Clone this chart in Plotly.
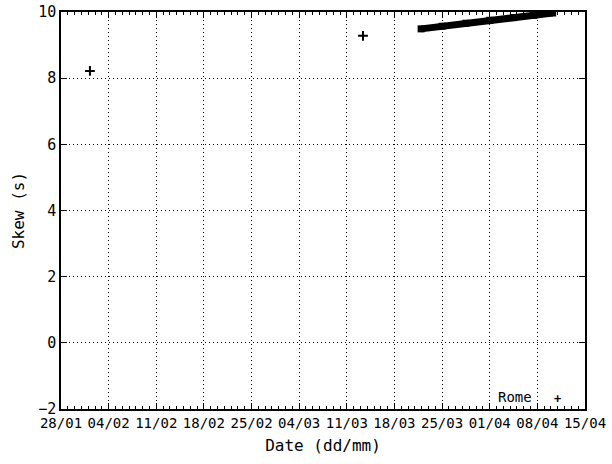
import plotly.graph_objects as go

# Isolated measurements
single_dates = ["2007-02-01 06:00", "2007-03-13 09:00"]
single_skew = [8.22, 9.28]

# Dense run of measurements (reads as a thick band)
band_dates = ["2007-03-21 22:00", "2007-03-25 00:00", "2007-03-28 12:00",
              "2007-04-01 00:00", "2007-04-04 12:00", "2007-04-07 12:00",
              "2007-04-10 06:00"]
band_skew = [9.49, 9.57, 9.66, 9.75, 9.83, 9.90, 9.97]

series_name = "Rome"
x_range = ["2007-01-28", "2007-04-15"]
y_range = [-2, 10]
y_ticks = [-2, 0, 2, 4, 6, 8, 10]

FONT = "DejaVu Sans Mono"
DAY = 86400000
DOT = "1px,3px"

fig = go.Figure()
fig.add_trace(go.Scatter(
    x=band_dates, y=band_skew, mode="lines",
    line=dict(color="black", width=7), showlegend=False, hoverinfo="skip"))
fig.add_trace(go.Scatter(
    x=band_dates, y=band_skew, mode="markers",
    marker=dict(symbol="square", size=7, color="black", line=dict(width=0)),
    showlegend=False))
fig.add_trace(go.Scatter(
    x=single_dates, y=single_skew, mode="markers", name=series_name,
    marker=dict(symbol="cross-thin", size=7, line=dict(color="black", width=2)),
    showlegend=False))

fig.add_annotation(xref="paper", yref="paper", x=0.903, y=0.030, text=series_name,
                   showarrow=False, xanchor="right", yanchor="middle",
                   font=dict(family=FONT, size=14, color="black"))
fig.add_annotation(xref="paper", yref="paper", x=0.948, y=0.026, text="<b>+</b>",
                   showarrow=False, xanchor="center", yanchor="middle",
                   font=dict(family=FONT, size=12, color="black"))

fig.update_xaxes(
    type="date", range=x_range, tick0=x_range[0], dtick=7 * DAY,
    tickformat="%d/%m", ticks="inside", ticklen=6, tickcolor="black",
    showline=True, linecolor="black", linewidth=1.5, mirror="ticks",
    showgrid=True, gridcolor="black", griddash=DOT, gridwidth=1,
    zeroline=False, automargin=False,
    minor=dict(dtick=DAY, tick0=x_range[0], ticks="inside", ticklen=3,
               tickcolor="black", showgrid=False),
    title=dict(text="Date (dd/mm)", font=dict(family=FONT, size=16, color="black"), standoff=10),
    tickfont=dict(family=FONT, size=14, color="black"),
)
fig.update_yaxes(
    range=y_range, tickvals=y_ticks, ticks="inside", ticklen=6, tickcolor="black",
    showline=True, linecolor="black", linewidth=1.5, mirror="ticks",
    showgrid=True, gridcolor="black", griddash=DOT, gridwidth=1,
    zeroline=False, automargin=False,
    title=dict(text="Skew (s)", font=dict(family=FONT, size=16, color="black"), standoff=10),
    tickfont=dict(family=FONT, size=15, color="black"),
)
fig.update_layout(
    width=612, height=464,
    margin=dict(l=61, r=27, t=12, b=55),
    paper_bgcolor="white", plot_bgcolor="white",
    showlegend=False,
)
fig.write_html("out.html",
               config={"displayModeBar": False, "responsive": False},
               post_script="document.body.style.margin='0';")
